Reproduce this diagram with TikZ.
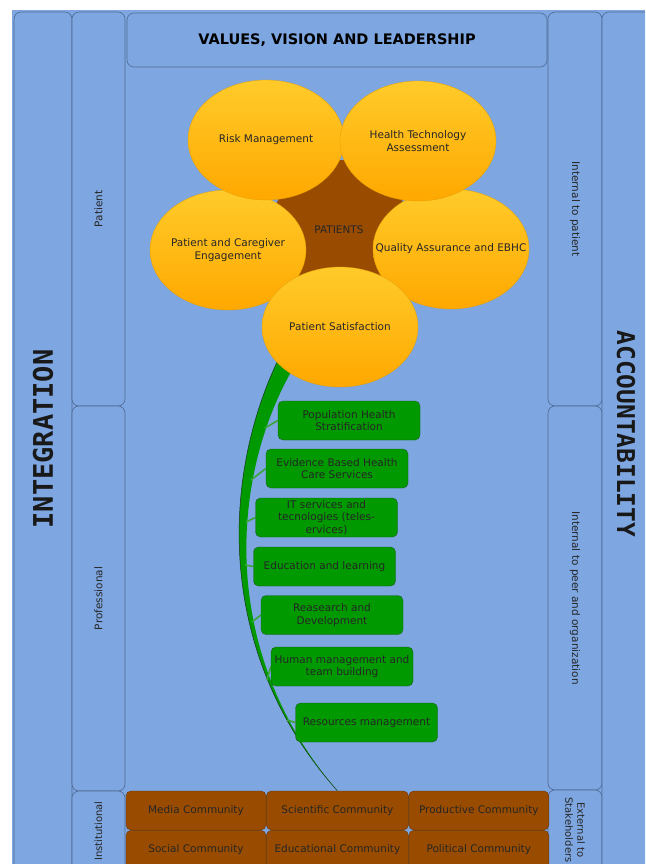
\documentclass[tikz,border=0pt]{standalone}
\usepackage{fontspec}
\setmainfont{DejaVu Sans}
\newfontfamily\bandfont{DejaVu Sans Mono}
\usetikzlibrary{shapes.geometric,positioning}
\pgfdeclarelayer{back}
\pgfsetlayers{back,main}
\definecolor{skyblue}{HTML}{7EA6E0}
\definecolor{edgeblue}{HTML}{4E6A96}
\definecolor{petalA}{HTML}{FFCB2A}
\definecolor{petalB}{HTML}{FFA800}
\definecolor{petaledge}{HTML}{E39E00}
\definecolor{soil}{HTML}{994C00}
\definecolor{soiledge}{HTML}{6A3400}
\definecolor{leaf}{HTML}{009900}
\definecolor{leafedge}{HTML}{1E5E1E}
\definecolor{twig}{HTML}{3AA63A}
\newcommand{\slim}[1]{\makebox[0pt]{#1}}

\begin{document}
\begin{tikzpicture}[x=1pt,y=-1pt,
		txt/.style={font=\fontsize{10.5}{13}\selectfont, text=black!85},
		band/.style={draw=edgeblue, fill=skyblue, rounded corners=7pt, line width=0.6pt, inner sep=0pt},
		petal/.style={ellipse, draw=petaledge, line width=0.3pt, top color=petalA, bottom color=petalB,
			minimum width=156pt, minimum height=120pt, inner sep=0pt, align=center, txt},
		leafbox/.style={draw=leafedge, fill=leaf, rounded corners=5pt, minimum width=142pt, minimum height=39pt,
			align=center, inner sep=0pt, txt, font=\fontsize{10.5}{12.5}\selectfont},
		community/.style={draw=soiledge, fill=soil, rounded corners=5pt, minimum height=39pt, inner sep=0pt, txt},
		bigword/.style={font=\bandfont\bfseries\fontsize{27}{27}\selectfont, text=black!90},
		twigline/.style={draw=twig, line width=1.6pt}]
		\useasboundingbox (0,0) rectangle (645,864);
		\clip (0,0) rectangle (645,864);

		\node[band, minimum width=58pt, minimum height=880pt] (integband) at (43,452) {};
		\node[bigword, rotate=90] (integword) at (43,439) {INTEGRATION};
		\node[band, txt, rotate=90, minimum width=394pt, minimum height=53pt] (patient) at (98.5,209) {Patient};
		\node[band, txt, rotate=90, minimum width=385pt, minimum height=53pt] (professional) at (98.5,598.5) {Professional};
		\node[band, txt, rotate=90, minimum width=80pt, minimum height=53pt, font=\fontsize{10}{12}\selectfont] (institutional) at (98.5,831) {Institutional};

		\node[band, txt, rotate=-90, minimum width=394pt, minimum height=54pt] (selfacc) at (575,209) {Internal to patient};
		\node[band, txt, rotate=-90, minimum width=384pt, minimum height=54pt] (peeracc) at (575,598) {Internal to peer and organization};
		\node[band, txt, rotate=-90, minimum width=80pt, minimum height=54pt, align=center, font=\fontsize{10}{12}\selectfont] (extacc) at (575,830) {External to\\Stakeholders};
		\node[band, minimum width=60pt, minimum height=880pt] (acctband) at (632,452) {};
		\node[bigword, rotate=-90, font=\bandfont\bfseries\fontsize{24.5}{25}\selectfont] (acctword) at (626,434) {ACCOUNTABILITY};

		\node[band, minimum width=420pt, minimum height=54pt, font=\bfseries\fontsize{14.5}{17}\selectfont] (vision) at (337,40) {VALUES, VISION AND LEADERSHIP};

		\node[community, minimum width=140pt] (media) at (196,810.5) {Media Community};
		\node[community, minimum width=142pt, right=0pt of media] (science) {Scientific Community};
		\node[community, minimum width=140pt, right=0pt of science] (industry) {Productive Community};
		\node[community, minimum width=140pt, below=0pt of media] (social) {Social Community};
		\node[community, minimum width=142pt, below=0pt of science] (education) {Educational Community};
		\node[community, minimum width=140pt, below=0pt of industry] (politics) {Political Community};

		\node[circle, fill=soil, minimum size=136pt, txt] (core) at (340,228) {};
		\node[petal] (engage) at (228,250) {\slim{Patient and Caregiver}\\\slim{Engagement}};
		\node[petal] (quality) at (451,249) {\slim{Quality Assurance and EBHC}};
		\node[petal] (risk) at (266,140) {\slim{Risk Management}};
		\node[petal] (hta) at (418,141) {\slim{Health Technology}\\\slim{Assessment}};
		\node[petal] (satisf) at (340,327) {\slim{Patient Satisfaction}};
		\node[txt] (corename) at (339,230) {PATIENTS};

		\begin{pgfonlayer}{back}
			\fill[skyblue] (12,10) rectangle (645,864);
			\fill[leaf] (282,352) .. controls (222,470) and (212,650) .. (science.north)
				.. controls (216,650) and (230,470) .. (298,360) -- cycle;
			\draw[leafedge!60!black, line width=0.5pt] (282,352) .. controls (222,470) and (212,650) .. (science.north);
		\end{pgfonlayer}

		\coordinate (k1) at (265,428);
		\coordinate (k2) at (251,480);
		\coordinate (k3) at (246,522);
		\coordinate (k4) at (245,565);
		\coordinate (k5) at (252,622);
		\coordinate (k6) at (267,680);
		\coordinate (k7) at (287,720);

		\node[leafbox] (strat) at (349,420.5) {Population Health\\Stratification};
		\node[leafbox] (ebhc) at (337,468.5) {Evidence Based Health\\Care Services};
		\node[leafbox] (itserv) at (326.5,517.5) {IT services and\\tecnologies (teles-\\ervices)};
		\node[leafbox] (edu) at (324.5,566.5) {Education and learning};
		\node[leafbox] (rnd) at (332,615) {Reasearch and\\Development};
		\node[leafbox] (hr) at (342,666.5) {Human management and\\team building};
		\node[leafbox] (resources) at (366.5,722.5) {Resources management};

		\begin{pgfonlayer}{back}
			\path[twigline] (k1) -- (strat.west) (k2) -- (ebhc.west) (k3) -- (itserv.west)
				(k4) -- (edu.west) (k5) -- (rnd.west) (k6) -- (hr.west) (k7) -- (resources.west);
		\end{pgfonlayer}
	\end{tikzpicture}
\end{document}
